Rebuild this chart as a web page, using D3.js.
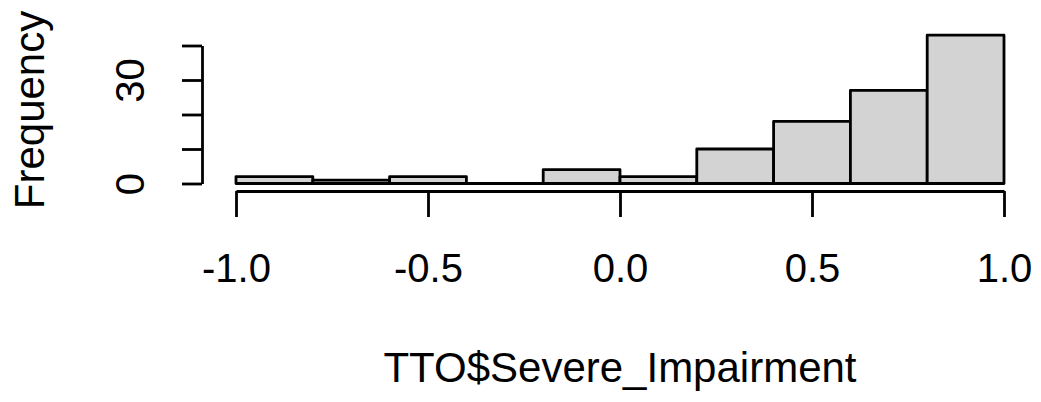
<!DOCTYPE html>
<html>
<head>
<meta charset="utf-8">
<script src="https://cdn.jsdelivr.net/npm/d3@7"></script>
<style>
  body { margin: 0; background: #fff; }
  svg text { font-family: "Liberation Sans", Arial, sans-serif; fill: #000; }
</style>
</head>
<body>
<svg id="chart" width="1041" height="402"></svg>
<script>
"use strict";

// histogram bins (left edges) and counts
const binStarts = [-1.0, -0.8, -0.6, -0.4, -0.2, 0.0, 0.2, 0.4, 0.6, 0.8];
const binWidth = 0.2;
const counts = [2, 1, 2, 0, 4, 2, 10, 18, 27, 43];

// axis ticks
const xTicks = [-1.0, -0.5, 0.0, 0.5, 1.0];
const yTicks = [0, 10, 20, 30, 40];
const yLabelled = [0, 30];   // R drops labels that would overlap

const xLabel = "TTO$Severe_Impairment";
const yLabel = "Frequency";

const svg = d3.select("#chart");

const x = d3.scaleLinear().domain([-1, 1]).range([236, 1004]);
const y = d3.scaleLinear().domain([0, 40]).range([183.5, 45.5]);

// bars drawn as closed paths so that empty bins still show a line
svg.append("g")
    .selectAll("path")
    .data(counts)
    .enter()
    .append("path")
    .attr("d", (d, i) => {
        const x0 = x(binStarts[i]), x1 = x(binStarts[i] + binWidth);
        return `M${x0},${y(0)}L${x0},${y(d)}L${x1},${y(d)}L${x1},${y(0)}Z`;
    })
    .attr("fill", "#d3d3d3")
    .attr("stroke", "#000")
    .attr("stroke-width", 2.8)
    .attr("stroke-linejoin", "round");

// plain hyphen for negatives, like R
const fmt = d => d.toFixed(1);

// x axis
const xAxis = svg.append("g")
    .attr("transform", "translate(0,191)")
    .call(d3.axisBottom(x)
        .tickValues(xTicks)
        .tickSize(26)
        .tickSizeOuter(0)
        .tickPadding(0)
        .tickFormat(fmt));

xAxis.select(".domain").attr("stroke-width", 2.8);
xAxis.selectAll(".tick line").attr("stroke-width", 2.8);
xAxis.selectAll(".tick text")
    .attr("y", 91)
    .attr("dy", null)
    .style("font-size", "40px");

// y axis
const yAxis = svg.append("g")
    .attr("transform", "translate(202,0)")
    .call(d3.axisLeft(y)
        .tickValues(yTicks)
        .tickSize(20)
        .tickSizeOuter(0)
        .tickFormat(d => yLabelled.includes(d) ? d : ""));

yAxis.select(".domain").attr("stroke-width", 2.8);
yAxis.selectAll(".tick line").attr("stroke-width", 2.8);
yAxis.selectAll(".tick text")
    .attr("x", null)
    .attr("dy", null)
    .attr("text-anchor", "middle")
    .attr("transform", "translate(-58,0) rotate(-90)")
    .style("font-size", "40px");

// axis titles
svg.append("text")
    .attr("x", (x(-1) + x(1)) / 2)
    .attr("y", 382)
    .attr("text-anchor", "middle")
    .style("font-size", "42px")
    .text(xLabel);

svg.append("text")
    .attr("transform", "translate(44,110) rotate(-90)")
    .attr("text-anchor", "middle")
    .style("font-size", "42px")
    .text(yLabel);
</script>
</body>
</html>
